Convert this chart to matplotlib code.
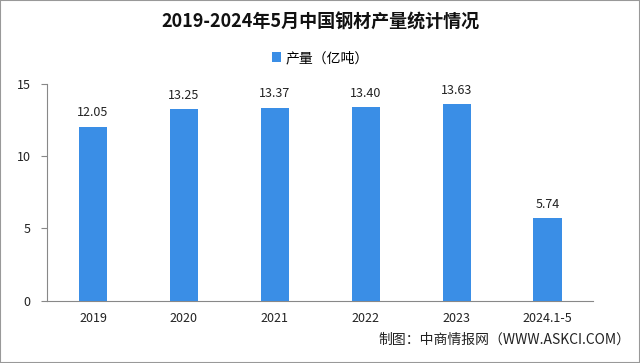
import matplotlib.pyplot as plt
from matplotlib.patches import Rectangle

plt.rcParams['font.family'] = ['Noto Sans CJK SC', 'DejaVu Sans']

# data
tahun = ['2019', '2020', '2021', '2022', '2023', '2024.1-5']
produksi = [12.05, 13.25, 13.37, 13.40, 13.63, 5.74]

fig = plt.figure(figsize=(6.4, 3.63), dpi=100)
ax = fig.add_axes([0.0742, 0.1716, 0.8524, 0.597])

x = range(len(tahun))
bars = ax.bar(x, produksi, width=0.31, color='#3a8ee6', label='产量（亿吨）', zorder=3)

# label nilai di atas batang
for xi, v in zip(x, produksi):
    ax.text(xi, v + 0.5, f'{v:.2f}', ha='center', va='bottom', fontsize=9, color='#222222')

ax.set_xlim(-0.5, len(tahun) - 0.5)
ax.set_ylim(0, 15)
ax.set_yticks([0, 5, 10, 15])
ax.set_xticks(list(x))
ax.set_xticklabels(tahun, fontsize=9, color='#222222')
ax.tick_params(axis='x', length=0, pad=8)
ax.tick_params(axis='y', length=4, color='#888888', labelsize=9, labelcolor='#222222', pad=8)

for s in ['top', 'right']:
    ax.spines[s].set_visible(False)
ax.spines['left'].set_color('#888888')
ax.spines['bottom'].set_color('#888888')

fig.text(0.5, 0.94, '2019-2024年5月中国钢材产量统计情况', ha='center', va='center',
         fontsize=13, fontweight='bold', color='#111111')
ax.legend(loc='center', bbox_to_anchor=(0.5, 1.12), frameon=False, fontsize=10,
          handlelength=0.7, handleheight=0.7, handletextpad=0.3)
fig.text(0.985, 0.065, '制图：中商情报网（WWW.ASKCI.COM）', ha='right', va='center',
         fontsize=10, color='#222222')

# bingkai tipis
fig.patches.append(Rectangle((0, 0), 1, 1, transform=fig.transFigure, fill=False,
                             edgecolor='#999999', linewidth=1.5))

fig.savefig('out.png', dpi=100)
